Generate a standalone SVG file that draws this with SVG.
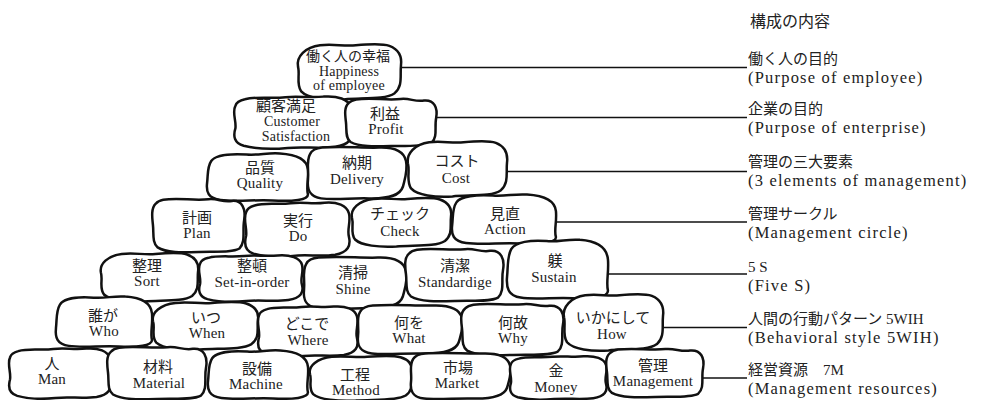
<svg xmlns="http://www.w3.org/2000/svg" xmlns:xlink="http://www.w3.org/1999/xlink" width="981" height="400" viewBox="0 0 981 400">
<style>
text{font-family:"Liberation Serif","Noto Sans CJK JP",serif;fill:#222}
.j{font-size:15px;text-anchor:middle}
.e{font-size:15px;text-anchor:middle;letter-spacing:0.2px}
.s{font-size:14px}
.rj{font-size:15px}
.re{font-size:16.5px;letter-spacing:1.2px}
.h{font-size:16px}
.cn line{stroke:#111;stroke-width:1.5}
</style>
<defs>
<path id="A" fill="#fff" stroke="#111" stroke-width="2.5" stroke-linejoin="round" vector-effect="non-scaling-stroke" d="M10,8 C20,2 32,7 44,4 C56,1 64,6 76,3 C88,1 97,8 99,22 C101,38 97,50 99,64 C101,80 98,92 86,96 C72,100 60,95 46,98 C32,101 18,99 9,94 C1,89 0,76 2,62 C3,48 -1,32 2,20 C3,13 6,10 10,8 Z"/>
<path id="B" fill="#fff" stroke="#111" stroke-width="2.5" stroke-linejoin="round" vector-effect="non-scaling-stroke" d="M6,18 C10,6 25,3 40,5 C52,7 60,1 72,3 C88,5 98,14 99,35 C100,55 97,72 99,85 C99,96 85,99 65,97 C48,95 30,100 15,96 C3,93 1,80 2,62 C3,45 2,30 6,18 Z"/>
<path id="C" fill="#fff" stroke="#111" stroke-width="2.5" stroke-linejoin="round" vector-effect="non-scaling-stroke" d="M22,4 C34,1 44,6 56,4 C68,2 80,0 88,5 C98,12 100,26 99,40 C98,58 101,75 93,88 C84,100 62,96 45,99 C28,101 10,97 4,85 C-1,72 3,56 1,42 C-1,24 8,7 22,4 Z"/>
<path id="D" fill="#fff" stroke="#111" stroke-width="2.5" stroke-linejoin="round" vector-effect="non-scaling-stroke" d="M12,5 C28,1 45,7 60,4 C70,2 75,10 85,7 C96,5 100,22 98,42 C96,60 100,80 93,92 C85,100 68,97 50,98 C32,99 15,100 6,90 C0,82 2,65 1,50 C0,35 -1,20 4,12 C6,8 9,6 12,5 Z"/>
<path id="E" fill="#fff" stroke="#111" stroke-width="2.5" stroke-linejoin="round" vector-effect="non-scaling-stroke" d="M15,3 C35,0 55,4 72,3 C88,2 97,10 99,28 C101,45 98,60 96,75 C93,92 82,98 62,97 C45,96 28,100 14,97 C2,94 0,80 1,62 C2,45 -1,28 3,15 C5,7 9,4 15,3 Z"/>
</defs>
<rect width="981" height="400" fill="#fff"/>

<g id="connectors" class="cn">
<line x1="398" y1="67.5" x2="747" y2="67.5"/>
<line x1="435" y1="117.5" x2="747" y2="117.5"/>
<line x1="505" y1="171.5" x2="747" y2="171.5"/>
<line x1="554" y1="222" x2="747" y2="222"/>
<line x1="606" y1="274" x2="747" y2="274"/>
<line x1="661" y1="327.5" x2="747" y2="327.5"/>
<line x1="702" y1="378" x2="747" y2="378"/>
</g>

<g id="n-happiness"><use xlink:href="#C" transform="translate(297,43) scale(1.05,0.57)"/>
<text class="j" x="348" y="61" style="font-size:14px">働く人の幸福</text><text class="e s" x="349" y="76">Happiness</text><text class="e s" x="349" y="90">of employee</text></g>

<g id="n-customer"><use xlink:href="#A" transform="translate(233,95) scale(1.19,0.54)"/>
<text class="j" x="286" y="111">顧客満足</text><text class="e s" x="292" y="126">Customer</text><text class="e s" x="296" y="141">Satisfaction</text></g>
<g id="n-profit"><use xlink:href="#D" transform="translate(345,97) scale(0.93,0.5)"/>
<text class="j" x="385" y="119">利益</text><text class="e" x="386" y="134">Profit</text></g>

<g id="n-quality"><use xlink:href="#B" transform="translate(205,152) scale(1.04,0.5)"/>
<text class="j" x="260" y="173">品質</text><text class="e" x="260" y="188">Quality</text></g>
<g id="n-delivery"><use xlink:href="#E" transform="translate(307,146) scale(1.0,0.54)"/>
<text class="j" x="357" y="168">納期</text><text class="e" x="357" y="184">Delivery</text></g>
<g id="n-cost"><use xlink:href="#C" transform="translate(407,140) scale(1.01,0.57)"/>
<text class="j" x="457" y="166">コスト</text><text class="e" x="456" y="183">Cost</text></g>

<g id="n-plan"><use xlink:href="#D" transform="translate(152,197) scale(0.94,0.56)"/>
<text class="j" x="197" y="223">計画</text><text class="e" x="197" y="238">Plan</text></g>
<g id="n-do"><use xlink:href="#A" transform="translate(244,201) scale(1.06,0.56)"/>
<text class="j" x="298" y="226">実行</text><text class="e" x="298" y="241">Do</text></g>
<g id="n-check"><use xlink:href="#C" transform="translate(351,197) scale(1.01,0.5)"/>
<text class="j" x="400" y="219">チェック</text><text class="e" x="400" y="236">Check</text></g>
<g id="n-action"><use xlink:href="#B" transform="translate(450,193) scale(1.07,0.52)"/>
<text class="j" x="505" y="219">見直</text><text class="e" x="505" y="234">Action</text></g>

<g id="n-sort"><use xlink:href="#C" transform="translate(100,252) scale(0.99,0.5)"/>
<text class="j" x="147" y="271">整理</text><text class="e" x="147" y="286">Sort</text></g>
<g id="n-setinorder"><use xlink:href="#A" transform="translate(198,254) scale(1.05,0.48)"/>
<text class="j" x="252" y="271">整頓</text><text class="e" x="252" y="287">Set-in-order</text></g>
<g id="n-shine"><use xlink:href="#E" transform="translate(303,256) scale(1.04,0.54)"/>
<text class="j" x="353" y="278">清掃</text><text class="e" x="353" y="294">Shine</text></g>
<g id="n-standardige"><use xlink:href="#D" transform="translate(405,247) scale(1.0,0.55)"/>
<text class="j" x="455" y="271">清潔</text><text class="e" x="455" y="287">Standardige</text></g>
<g id="n-sustain"><use xlink:href="#B" transform="translate(505,238) scale(1.04,0.62)"/>
<text class="j" x="555" y="266">躾</text><text class="e" x="554" y="282">Sustain</text></g>

<g id="n-who"><use xlink:href="#B" transform="translate(54,295) scale(0.99,0.53)"/>
<text class="j" x="103" y="321">誰が</text><text class="e" x="104" y="336">Who</text></g>
<g id="n-when"><use xlink:href="#C" transform="translate(152,301) scale(1.07,0.49)"/>
<text class="j" x="206" y="323">いつ</text><text class="e" x="207" y="338">When</text></g>
<g id="n-where"><use xlink:href="#A" transform="translate(257,305) scale(1.01,0.52)"/>
<text class="j" x="307" y="329">どこで</text><text class="e" x="308" y="345">Where</text></g>
<g id="n-what"><use xlink:href="#E" transform="translate(357,304) scale(1.06,0.51)"/>
<text class="j" x="409" y="328">何を</text><text class="e" x="409" y="343">What</text></g>
<g id="n-why"><use xlink:href="#D" transform="translate(461,302) scale(1.04,0.54)"/>
<text class="j" x="513" y="328">何故</text><text class="e" x="513" y="343">Why</text></g>
<g id="n-how"><use xlink:href="#C" transform="translate(563,293) scale(1.01,0.58)"/>
<text class="j" x="613" y="323">いかにして</text><text class="e" x="612" y="339">How</text></g>

<g id="n-man"><use xlink:href="#A" transform="translate(8,347) scale(1.03,0.52)"/>
<text class="j" x="52" y="369">人</text><text class="e" x="52" y="384">Man</text></g>
<g id="n-material"><use xlink:href="#D" transform="translate(107,345) scale(1.01,0.55)"/>
<text class="j" x="158" y="372">材料</text><text class="e" x="159" y="388">Material</text></g>
<g id="n-machine"><use xlink:href="#B" transform="translate(206,349) scale(1.03,0.51)"/>
<text class="j" x="257" y="374">設備</text><text class="e" x="256" y="389">Machine</text></g>
<g id="n-method"><use xlink:href="#C" transform="translate(309,355) scale(1.04,0.46)"/>
<text class="j" x="355" y="380">工程</text><text class="e" x="356" y="395">Method</text></g>
<g id="n-market"><use xlink:href="#E" transform="translate(410,352) scale(1.01,0.48)"/>
<text class="j" x="458" y="373">市場</text><text class="e" x="457" y="388">Market</text></g>
<g id="n-money"><use xlink:href="#A" transform="translate(509,355) scale(0.98,0.45)"/>
<text class="j" x="556" y="376">金</text><text class="e" x="556" y="392">Money</text></g>
<g id="n-management"><use xlink:href="#D" transform="translate(606,347) scale(0.99,0.51)"/>
<text class="j" x="653" y="371">管理</text><text class="e" x="653" y="386">Management</text></g>

<g id="labels">
<text class="h" x="750" y="27">構成の内容</text>
<text class="rj" x="748" y="64">働く人の目的</text><text class="re" x="748" y="83">(Purpose of employee)</text>
<text class="rj" x="748" y="114">企業の目的</text><text class="re" x="748" y="133">(Purpose of enterprise)</text>
<text class="rj" x="748" y="167">管理の三大要素</text><text class="re" x="748" y="186">(3 elements of management)</text>
<text class="rj" x="748" y="219">管理サークル</text><text class="re" x="748" y="238">(Management circle)</text>
<text class="rj" x="748" y="272">5 S</text><text class="re" x="748" y="291">(Five S)</text>
<text class="rj" x="748" y="324">人間の行動パターン 5WIH</text><text class="re" x="748" y="343">(Behavioral style 5WIH)</text>
<text class="rj" x="748" y="375">経営資源　7M</text><text class="re" x="748" y="394">(Management resources)</text>
</g>
</svg>
